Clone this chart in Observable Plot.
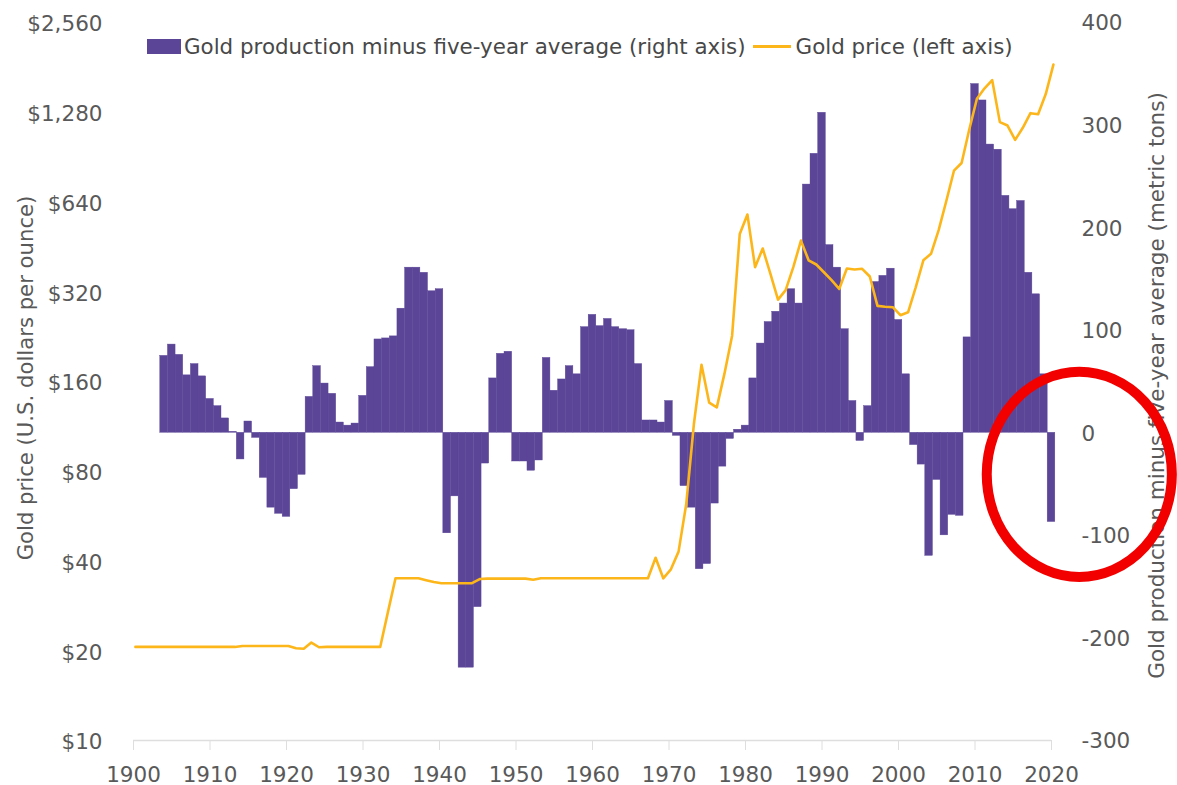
<!DOCTYPE html>
<html>
<head>
<meta charset="utf-8">
<script src="https://cdn.jsdelivr.net/npm/d3@7"></script>
<script src="https://cdn.jsdelivr.net/npm/@observablehq/plot@0.6"></script>
<style>
  body { margin: 0; background: #fff; }
  #wrap { position: relative; width: 1177px; height: 785px; }
  #legend { position: absolute; left: 147px; top: 33px; height: 26px; display: flex; align-items: center;
            font-family: 'DejaVu Sans', sans-serif; font-size: 21.4px; color: #484848; white-space: nowrap; }
  #legend .sw { display: inline-block; width: 34px; height: 15px; margin-right: 3px; }
  #legend .ln { display: inline-block; width: 38px; height: 3px; margin: 0 5px 0 7px; }
</style>
</head>
<body>
<div id="wrap">
  <div id="legend"></div>
</div>
<script>
// ---- data ----
const barStartYear = 1904;
const production = [
  75, 86, 76, 56, 67, 55,
  33, 26, 14, 1, -26, 11, -5, -44, -73, -79,
  -82, -55, -41, 35, 65, 48, 38, 10, 7, 9,
  36, 64, 91, 92, 94, 121, 161, 161, 156, 138,
  140, -98, -62, -229, -229, -170, -30, 53, 77, 79,
  -28, -28, -37, -27, 73, 41, 52, 65, 57, 103,
  115, 104, 111, 103, 101, 100, 67, 12, 12, 10,
  31, -3, -52, -73, -133, -128, -69, -33, -6, 3,
  7, 53, 87, 108, 118, 126, 140, 126, 242, 272,
  312, 183, 161, 101, 31, -8, 26, 147, 153, 160,
  110, 57, -12, -31, -120, -46, -100, -80, -81, 93,
  340, 324, 281, 276, 231, 218, 226, 156, 135, 57,
  -87
];
const priceStartYear = 1900;
const goldPrice = [
  20.6, 20.6, 20.6, 20.6, 20.6, 20.6, 20.6, 20.6, 20.6, 20.6, 20.6, 20.6, 20.6, 20.6,
  20.75, 20.75, 20.75, 20.75, 20.75, 20.75, 20.75,
  20.4, 20.3, 21.3, 20.55,
  20.6, 20.6, 20.6, 20.6, 20.6, 20.6, 20.6, 20.6,
  26.9,
  35, 35, 35, 35,
  34.5, 34,
  33.7, 33.7, 33.7, 33.7, 33.7,
  34.8,
  34.9, 34.9, 34.9, 34.9, 34.9, 34.9,
  34.6,
  35, 35, 35, 35, 35, 35, 35, 35, 35, 35, 35, 35, 35, 35, 35,
  41, 35, 37.5, 43, 62, 115, 182, 136, 131, 170,
  228, 500, 581, 387, 447, 368, 301, 324, 387, 475,
  408, 395, 372, 350, 327, 383, 380, 382, 360, 287,
  285, 284, 267, 273, 331, 408, 429, 515, 645, 815,
  865, 1120, 1420, 1540, 1640, 1186, 1155, 1034, 1135, 1271,
  1260, 1473, 1850
];
const yearTicks = [1900, 1910, 1920, 1930, 1940, 1950, 1960, 1970, 1980, 1990, 2000, 2010, 2020];
const priceTicks = [10, 20, 40, 80, 160, 320, 640, 1280, 2560];
const productionTicks = [-300, -200, -100, 0, 100, 200, 300, 400];
const seriesNames = ["Gold production minus five-year average (right axis)", "Gold price (left axis)"];
const leftTitle = "Gold price (U.S. dollars per ounce)";
const rightTitle = "Gold production minus five-year average (metric tons)";
const colors = { bars: "#5b4597", line: "#fdb61a", circle: "#f20000" };

// ---- tables ----
const bars = production.map((v, i) => ({ year: barStartYear + i, value: v }));
const prices = goldPrice.map((p, i) => ({ year: priceStartYear + i, price: p }));

// left (log2) axis mapped into the right axis units
const yMin = -300, yMax = 400;
const span = Math.log2(priceTicks[priceTicks.length - 1] / priceTicks[0]);
const toY = p => yMin + Math.log2(p / priceTicks[0]) * (yMax - yMin) / span;
const fromY = v => priceTicks[0] * 2 ** ((v - yMin) * span / (yMax - yMin));

const font = "'DejaVu Sans', sans-serif";
const grey = "#595959";
const fs = 21.5;

const chart = Plot.plot({
  width: 1177,
  height: 785,
  marginLeft: 133,
  marginRight: 126,
  marginTop: 22,
  marginBottom: 45,
  style: { fontFamily: font, fontSize: fs + "px", color: grey, background: "#fff", overflow: "visible" },
  x: { domain: [1900, 2020] },
  y: { domain: [yMin, yMax] },
  marks: [
    Plot.rect(bars, { x1: d => d.year - 0.5, x2: d => d.year + 0.5, y1: 0, y2: "value",
                      fill: colors.bars, stroke: colors.bars, strokeWidth: 0.4 }),
    Plot.ruleY([yMin], { stroke: "#dedede", strokeWidth: 1.5 }),
    Plot.axisX(yearTicks, { tickSize: 10, tickPadding: 16, stroke: "#dedede", fill: grey,
                            tickFormat: d => String(d), label: null, fontSize: fs }),
    Plot.axisY(priceTicks.map(toY), { anchor: "left", tickSize: 0, tickPadding: 31, fill: grey, dy: 2,
                            tickFormat: v => "$" + d3.format(",")(Math.round(fromY(v))), label: null, fontSize: fs }),
    Plot.axisY(productionTicks, { anchor: "right", tickSize: 0, tickPadding: 30, fill: grey, dy: 1,
                            tickFormat: d => String(d), label: null, fontSize: fs }),
    Plot.line(prices, { x: d => d.year + 0.25, y: d => toY(d.price), stroke: colors.line, strokeWidth: 2.6,
                        strokeLinejoin: "round" }),
    Plot.text([leftTitle], { text: d => d, frameAnchor: "left", textAnchor: "middle", rotate: -90,
                             dx: -107, dy: -3.5, fill: grey, fontSize: 21.2 }),
    Plot.text([rightTitle], { text: d => d, frameAnchor: "right", textAnchor: "middle", rotate: -90,
                              dx: 106, dy: 4, fill: grey, fontSize: 21.5 })
  ]
});

// red annotation ellipse placed through the chart's scales
const sx = chart.scale("x"), sy = chart.scale("y");
const cx = sx.apply(2023.7), cy = sy.apply(-41);
const rx = sx.apply(2023.7) - sx.apply(2011.6);
const ry = sy.apply(-141) - sy.apply(-41);
d3.select(chart).append("ellipse")
  .attr("cx", cx).attr("cy", cy).attr("rx", rx).attr("ry", ry)
  .attr("fill", "none").attr("stroke", colors.circle).attr("stroke-width", 10);

document.getElementById("wrap").appendChild(chart);

// legend
const lg = document.getElementById("legend");
lg.innerHTML =
  `<span class="sw" style="background:${colors.bars}"></span><span>${seriesNames[0]}</span>` +
  `<span class="ln" style="background:${colors.line}"></span><span>${seriesNames[1]}</span>`;
</script>
</body>
</html>
